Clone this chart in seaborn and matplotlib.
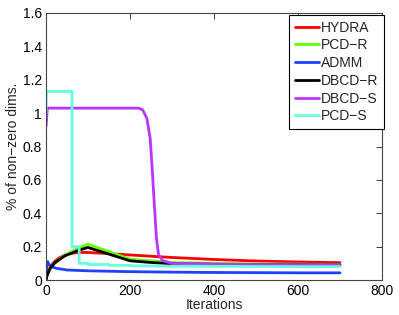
import matplotlib
matplotlib.use("Agg")
import matplotlib.pyplot as plt
import seaborn as sns
import pandas as pd
import numpy as np

series_names = ["HYDRA", "PCD\u2212R", "ADMM", "DBCD\u2212R", "DBCD\u2212S", "PCD\u2212S"]
colors = ["#ff0000", "#66ff00", "#2040ff", "#000000", "#bb33ff", "#66ffdd"]

hydra_x = [0, 3, 10, 20, 30, 45, 60, 80, 100, 150, 200, 300, 400, 500, 600, 700]
hydra_y = [0, 0.04, 0.08, 0.11, 0.13, 0.15, 0.16, 0.165, 0.165, 0.158, 0.15, 0.135, 0.123, 0.114, 0.108, 0.104]

pcdr_x = [0, 3, 10, 20, 30, 45, 60, 80, 100, 150, 200, 250, 300, 400, 500, 600, 700]
pcdr_y = [0, 0.03, 0.07, 0.1, 0.12, 0.15, 0.17, 0.195, 0.215, 0.17, 0.125, 0.115, 0.105, 0.1, 0.097, 0.095, 0.093]

admm_x = [0, 2, 4, 8, 15, 25, 50, 100, 200, 300, 400, 500, 600, 700]
admm_y = [0, 0.1, 0.11, 0.09, 0.078, 0.07, 0.06, 0.055, 0.05, 0.047, 0.045, 0.044, 0.043, 0.043]

dbcdr_x = [0, 3, 10, 20, 30, 45, 60, 80, 100, 150, 200, 250, 300, 400, 500, 600, 700]
dbcdr_y = [0, 0.03, 0.07, 0.1, 0.12, 0.145, 0.16, 0.18, 0.195, 0.155, 0.115, 0.105, 0.097, 0.094, 0.092, 0.091, 0.09]

dbcds_x = [0, 1, 3, 50, 150, 220, 230, 240, 248, 252, 258, 263, 268, 278, 300, 400, 500, 600, 700]
dbcds_y = [0.92, 0.95, 1.03, 1.03, 1.03, 1.03, 1.02, 0.97, 0.85, 0.7, 0.45, 0.25, 0.15, 0.115, 0.1, 0.095, 0.093, 0.091, 0.09]

pcds_x = [0, 1, 62, 62, 79, 79, 100, 100, 150, 150, 200, 200, 300, 400, 500, 600, 700]
pcds_y = [1.0, 1.13, 1.13, 0.2, 0.2, 0.1, 0.1, 0.093, 0.093, 0.088, 0.088, 0.085, 0.083, 0.082, 0.081, 0.08, 0.08]

all_x = [hydra_x, pcdr_x, admm_x, dbcdr_x, dbcds_x, pcds_x]
all_y = [hydra_y, pcdr_y, admm_y, dbcdr_y, dbcds_y, pcds_y]

rows = []
for name, xs, ys in zip(series_names, all_x, all_y):
    for i, (a, b) in enumerate(zip(xs, ys)):
        rows.append({"Iterations": a, "val": b, "method": name, "order": i})
df = pd.DataFrame(rows)

sns.set_style("white")
plt.rcParams['font.family'] = ['Liberation Sans', 'DejaVu Sans']

fig = plt.figure(figsize=(3.99, 3.15), dpi=100)
ax = fig.add_axes([46/399, 35/315, 336/399, 267/315])

sns.lineplot(data=df, x="Iterations", y="val", hue="method", hue_order=series_names,
             palette=colors, units="method", estimator=None, sort=False, linewidth=2, ax=ax)

ax.set_xlim(0, 800)
ax.set_ylim(0, 1.6)
ax.set_xticks([0, 200, 400, 600, 800])
ax.set_yticks([0, 0.2, 0.4, 0.6, 0.8, 1.0, 1.2, 1.4, 1.6])
ax.set_yticklabels(["0", "0.2", "0.4", "0.6", "0.8", "1", "1.2", "1.4", "1.6"])
ax.tick_params(direction="in", length=4, width=0.6, top=True, right=True, labelsize=10,
               colors="#222222", pad=3)
ax.tick_params(labelcolor="black")
for s in ax.spines.values():
    s.set_visible(True)
    s.set_color("#444444")
    s.set_linewidth(0.8)
ax.set_xlabel("Iterations", fontsize=10, labelpad=0)
ax.set_ylabel("% of non\u2212zero dims.", fontsize=10, labelpad=2)

leg = ax.legend(loc="upper right", bbox_to_anchor=(384/399, 300/315), bbox_transform=fig.transFigure,
                fontsize=10, frameon=True,
                fancybox=False, edgecolor="black", framealpha=1, borderpad=0.4,
                labelspacing=0.27, handlelength=1.75, handletextpad=0.15, borderaxespad=0)
leg.get_frame().set_linewidth(0.8)
for line in leg.get_lines():
    line.set_linewidth(2)

fig.savefig("out.png", dpi=100)
